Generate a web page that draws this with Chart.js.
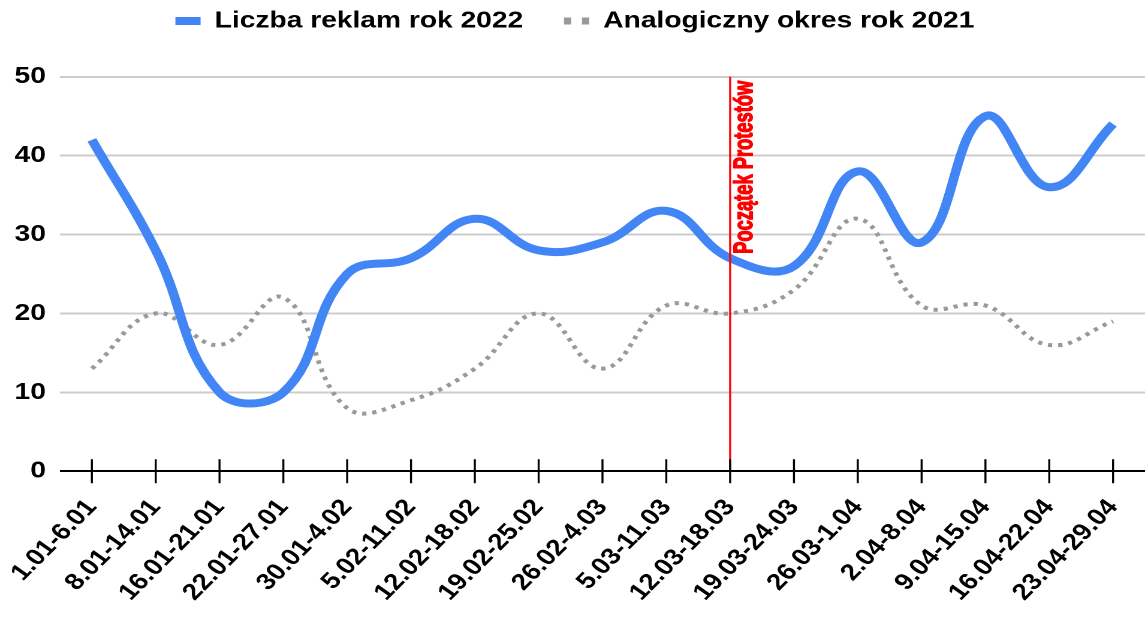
<!DOCTYPE html>
<html>
<head>
<meta charset="utf-8">
<script src="https://cdn.jsdelivr.net/npm/chart.js@4"></script>
<style>
  html, body { margin: 0; padding: 0; background: #fff; overflow: hidden; }
  /* le graphique d'origine est étiré en largeur (~1.2x) */
  #wrap { width: 959px; height: 622px; transform: scaleX(1.19895); transform-origin: 0 0; }
</style>
</head>
<body>
<div id="wrap"><canvas id="chart"></canvas></div>
<script>
  /* DONNÉES */
  const okresy = [
    "1.01-6.01", "8.01-14.01", "16.01-21.01", "22.01-27.01", "30.01-4.02",
    "5.02-11.02", "12.02-18.02", "19.02-25.02", "26.02-4.03", "5.03-11.03",
    "12.03-18.03", "19.03-24.03", "26.03-1.04", "2.04-8.04", "9.04-15.04",
    "16.04-22.04", "23.04-29.04"
  ];
  const reklamy2022 = [42, 28, 10, 10, 25, 27, 32, 28, 29, 33, 27, 26, 38, 29, 45, 36, 44];
  const reklamy2021 = [13, 20, 16, 22, 8, 9, 13, 20, 13, 21, 20, 23, 32, 21, 21, 16, 19];
  const yTicks = [0, 10, 20, 30, 40, 50];
  const debutProtestes = "12.03-18.03";
  const texteProtestes = "Początek Protestów";

  const POLICE = "'Liberation Sans', Arial, sans-serif";

  /* PLUGIN : ligne rouge + texte vertical */
  const ligneProtestes = {
    id: "ligneProtestes",
    afterDatasetsDraw(chart) {
      const { ctx, chartArea, scales } = chart;
      const x = scales.x.getPixelForValue(okresy.indexOf(debutProtestes));
      ctx.save();
      ctx.strokeStyle = "#ff0000";
      ctx.lineWidth = 1.7;
      ctx.beginPath();
      ctx.moveTo(x, chartArea.top);
      ctx.lineTo(x, chartArea.bottom);
      ctx.stroke();

      // texte tourné de -90°, resserré comme une police étroite
      ctx.font = "bold 22px 'Liberation Sans', Arial, sans-serif";
      const w = ctx.measureText(texteProtestes).width;
      ctx.translate(x + 18.6, chartArea.top + 4);
      ctx.rotate(-Math.PI / 2);
      ctx.scale(173 / w, 1);
      ctx.fillStyle = "#ff0000";
      ctx.strokeStyle = "#ff0000";
      ctx.lineWidth = 1.1;
      ctx.lineJoin = "round";
      ctx.textAlign = "right";
      ctx.textBaseline = "alphabetic";
      ctx.fillText(texteProtestes, 0, 0);
      ctx.strokeText(texteProtestes, 0, 0);
      ctx.restore();
    }
  };

  /* PLUGIN : graduations qui traversent l'axe */
  const graduations = {
    id: "graduations",
    afterDraw(chart) {
      const { ctx, chartArea, scales } = chart;
      ctx.save();
      ctx.strokeStyle = "#000";
      ctx.lineWidth = 1.7;
      okresy.forEach((_, i) => {
        const x = scales.x.getPixelForValue(i);
        ctx.beginPath();
        ctx.moveTo(x, chartArea.bottom - 12);
        ctx.lineTo(x, chartArea.bottom + 12);
        ctx.stroke();
      });
      ctx.restore();
    }
  };

  /* PLUGIN : espace sous la légende */
  const margeLegende = {
    id: "margeLegende",
    beforeInit(chart) {
      const fit = chart.legend.fit;
      chart.legend.fit = function () {
        fit.bind(chart.legend)();
        this.height += 34;
      };
    }
  };

  /* GRAPHIQUE */
  const ctx = document.getElementById("chart").getContext("2d");
  const chart = new Chart(ctx, {
    type: "line",
    data: {
      labels: okresy,
      datasets: [
        {
          label: "Liczba reklam rok 2022",
          data: reklamy2022,
          borderColor: "#4285f4",
          backgroundColor: "#4285f4",
          borderWidth: 8,
          borderCapStyle: "butt",
          borderJoinStyle: "round",
          tension: 0.42,
          pointRadius: 0,
        },
        {
          label: "Analogiczny okres rok 2021",
          data: reklamy2021,
          borderColor: "#999999",
          backgroundColor: "#999999",
          borderWidth: 4,
          borderDash: [3.5, 5],
          borderCapStyle: "butt",
          tension: 0.42,
          pointRadius: 0,
        },
      ],
    },
    options: {
      responsive: true,
      maintainAspectRatio: false,
      devicePixelRatio: 2,
      animation: false,
      events: [],
      layout: { padding: { top: -24.75, right: 0, bottom: 1, left: 0 } },
      plugins: {
        legend: {
          position: "top",
          labels: {
            usePointStyle: true,
            pointStyle: "line",
            pointStyleWidth: 21,
            padding: 34,
            color: "#000",
            font: { family: POLICE, size: 23.5, weight: "bold" },
            generateLabels: (c) => {
              const items = Chart.defaults.plugins.legend.labels.generateLabels(c);
              items[0].lineWidth = 8;
              items[0].lineDash = [];
              items[1].lineWidth = 7;
              items[1].lineDash = [6, 9];
              return items;
            },
          },
        },
        tooltip: { enabled: false },
      },
      scales: {
        x: {
          offset: true,
          grid: { display: false },
          border: { display: false },
          afterFit: (s) => { s.paddingLeft = 0; s.paddingRight = 0; },
          ticks: {
            minRotation: 50,
            maxRotation: 50,
            autoSkip: false,
            padding: 15,
            color: "#000",
            font: { family: POLICE, size: 23, weight: "bold" },
          },
        },
        y: {
          min: yTicks[0],
          max: yTicks[yTicks.length - 1],
          afterFit: (s) => { s.width = 50; },
          afterBuildTicks: (s) => { s.ticks = yTicks.map((v) => ({ value: v })); },
          border: { display: false },
          grid: {
            drawTicks: false,
            lineWidth: 2,
            color: (c) => (c.tick && c.tick.value === 0 ? "#000" : "#cccccc"),
          },
          ticks: {
            padding: 11.7,
            color: "#000",
            font: { family: POLICE, size: 23.5, weight: "bold" },
          },
        },
      },
    },
    plugins: [ligneProtestes, graduations, margeLegende],
  });
</script>
</body>
</html>
